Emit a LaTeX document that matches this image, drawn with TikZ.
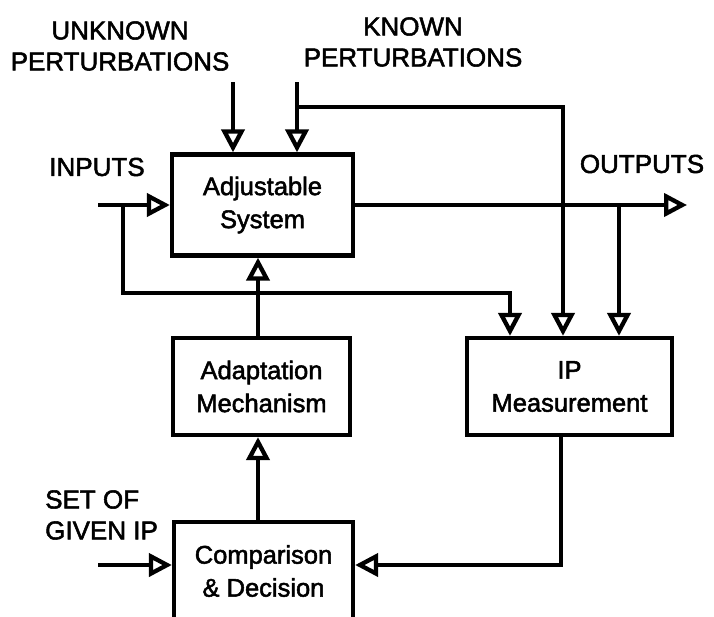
\documentclass[tikz,border=0pt]{standalone}
\usepackage{fontspec}
\setmainfont{Liberation Sans}[FakeBold=2]
\usetikzlibrary{arrows.meta}

\tikzset{
  blk/.style={draw, line width=4.3pt, inner sep=0pt, align=center,
    font=\fontsize{25.5}{33}\selectfont},
  lbl/.style={inner sep=0pt, align=center, font=\fontsize{26}{31}\selectfont},
  flow/.style={line width=4.3pt, -{Triangle[open, length=23pt, width=23pt]}}
}

\begin{document}
\begin{tikzpicture}[x=1pt, y=-1pt]
\useasboundingbox (0,0) rectangle (714,616);

% blocks
\node[blk, minimum width=181pt, minimum height=101pt] (sys) at (262.5,205) {Adjustable\\System};
\node[blk, minimum width=177pt, minimum height=97pt] (adapt) at (261.5,386.5) {Adaptation\\Mechanism};
\node[blk, minimum width=205pt, minimum height=97pt] (meas) at (569.5,386.5) {IP\\Measurement};
\node[blk, minimum width=179pt, minimum height=98pt] (comp) at (263.5,571) {Comparison\\\& Decision};

% labels
\node[lbl] (unkL) at (120,46) {UNKNOWN\\PERTURBATIONS};
\node[lbl] (knL) at (413,42) {KNOWN\\PERTURBATIONS};
\node[lbl] (inL) at (97,167) {INPUTS};
\node[lbl] (outL) at (642,164) {OUTPUTS};
\node[lbl, align=left, anchor=west] (setL) at (45,515) {SET OF\\GIVEN IP};

% free ends and branch points
\coordinate (unk) at (233,82);
\coordinate (kn) at (297,82);
\coordinate (knB) at (297,107);
\coordinate (inS) at (98,205);
\coordinate (inB) at (123,205);
\coordinate (outE) at (687,205);
\coordinate (outB) at (619,205);
\coordinate (setS) at (98,565);
\coordinate (ax) at (258,0);

% perturbations
\draw[flow] (unk) -- (unk |- sys.north);
\draw[flow] (kn) -- (kn |- sys.north);
\draw[flow] (knB) -| ([xshift=-6.5pt]meas.north);

% inputs and outputs
\draw[flow] (inS) -- (sys.west);
\draw[flow] (sys.east) -- (outE);
\draw[flow] (inB) -- ++(0,88) -| ([xshift=-59.5pt]meas.north);
\draw[flow] (outB) -- (outB |- meas.north);

% adaptation loop
\draw[flow] (ax |- adapt.north) -- (ax |- sys.south);
\draw[flow] (ax |- comp.north) -- (ax |- adapt.south);
\draw[flow] ([xshift=-8.5pt]meas.south) |- ([yshift=6pt]comp.east);
\draw[flow] (setS) -- (setS -| comp.west);
\end{tikzpicture}
\end{document}
